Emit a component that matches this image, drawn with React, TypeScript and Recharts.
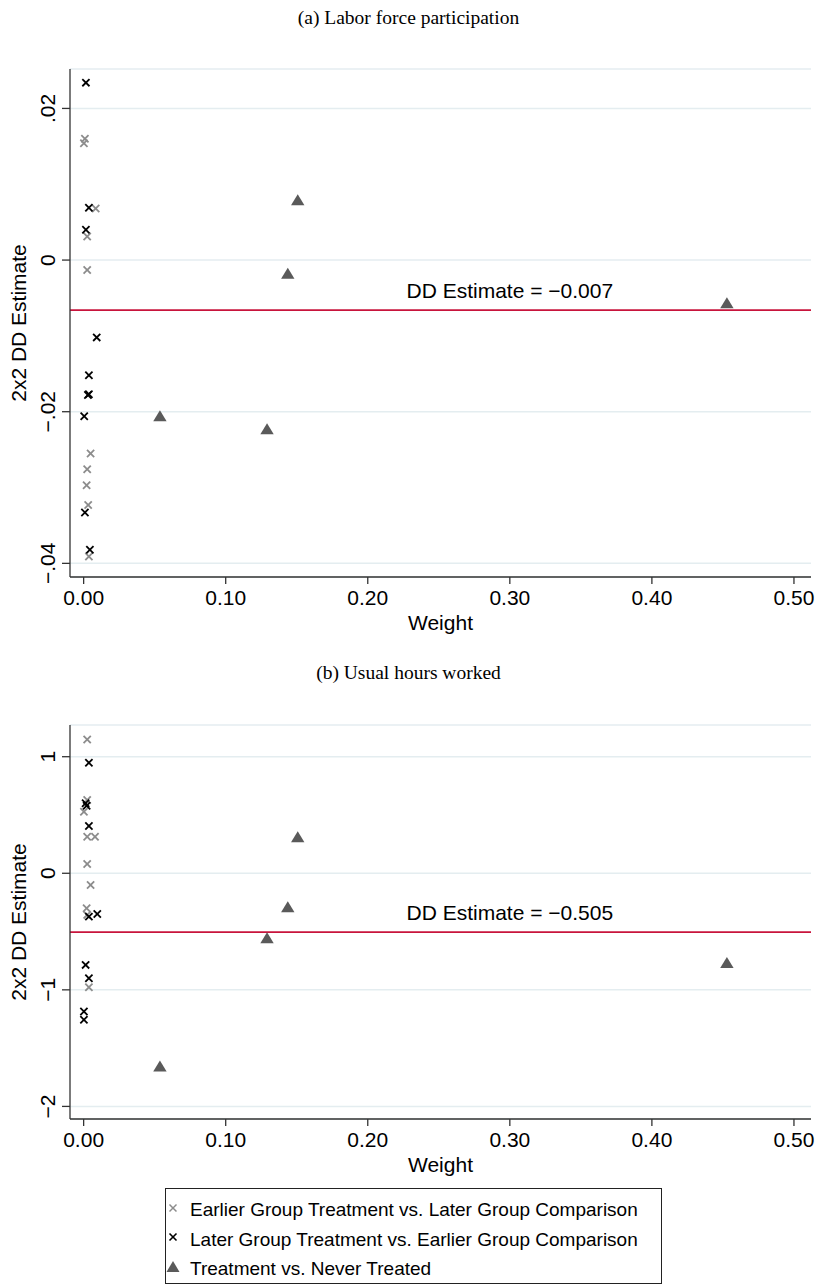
import React from "react";
import {
  ScatterChart,
  Scatter,
  XAxis,
  YAxis,
  CartesianGrid,
  ReferenceLine,
  ReferenceDot,
} from "recharts";

const SANS = '"Liberation Sans", Arial, Helvetica, sans-serif';
const SERIF = '"Liberation Serif", "Times New Roman", serif';

const xTicks = [0, 0.1, 0.2, 0.3, 0.4, 0.5];
const xTickLabels = ["0.00", "0.10", "0.20", "0.30", "0.40", "0.50"];
const xDomain = [-0.0096, 0.512];

const seriesNames = [
  "Earlier Group Treatment vs. Later Group Comparison",
  "Later Group Treatment vs. Earlier Group Comparison",
  "Treatment vs. Never Treated",
];

// (a) labor force participation
const lfpTicks = [-0.04, -0.02, 0, 0.02];
const lfpTickLabels = ["−.04", "−.02", "0", ".02"];
const lfpDomain = [-0.0418, 0.0252];
const lfpEarlierWeight = [0.0009, 0.0002, 0.0085, 0.0025, 0.0025, 0.0049, 0.0025, 0.0021, 0.0032, 0.0037];
const lfpEarlierEst = [0.016, 0.0154, 0.0068, 0.0031, -0.0013, -0.0255, -0.0276, -0.0297, -0.0323, -0.0391];
const lfpLaterWeight = [0.0016, 0.0037, 0.0016, 0.0092, 0.0037, 0.003, 0.0037, 0.0004, 0.0009, 0.0044];
const lfpLaterEst = [0.0234, 0.0069, 0.004, -0.0102, -0.0152, -0.0178, -0.0177, -0.0206, -0.0333, -0.0382];
const lfpNeverWeight = [0.0537, 0.1291, 0.1437, 0.1507, 0.4528];
const lfpNeverEst = [-0.0206, -0.0223, -0.0018, 0.0079, -0.0057];
const lfpDD = -0.0066;
const lfpDDLabel = "DD Estimate = −0.007";

// (b) usual hours worked
const hrsTicks = [-2, -1, 0, 1];
const hrsTickLabels = ["−2", "−1", "0", "1"];
const hrsDomain = [-2.108, 1.272];
const hrsEarlierWeight = [0.0025, 0.0025, 0.0002, 0.0025, 0.008, 0.0025, 0.0049, 0.0021, 0.0025, 0.0037];
const hrsEarlierEst = [1.148, 0.628, 0.528, 0.314, 0.314, 0.08, -0.1, -0.3, -0.357, -0.977];
const hrsLaterWeight = [0.0037, 0.0014, 0.0021, 0.0037, 0.0037, 0.0096, 0.0014, 0.0037, 0.0002, 0.0002];
const hrsLaterEst = [0.948, 0.6, 0.579, 0.405, -0.372, -0.349, -0.786, -0.9, -1.186, -1.257];
const hrsNeverWeight = [0.0537, 0.1291, 0.1437, 0.1507, 0.4528];
const hrsNeverEst = [-1.657, -0.557, -0.291, 0.308, -0.77];
const hrsDD = -0.505;
const hrsDDLabel = "DD Estimate = −0.505";

const zip = (w: number[], b: number[]) => w.map((x, i) => ({ w: x, b: b[i] }));

const GRAY_X = "#8c8c8c";
const BLACK_X = "#000000";
const TRI = "#5a5a5a";
const RED = "#c8143c";
const AXIS = "#333333";
const FS = 21;

const cross = (color: string) => (p: any) => {
  const { cx, cy } = p;
  const s = 3.6;
  return (
    <g>
      <line x1={cx - s} y1={cy - s} x2={cx + s} y2={cy + s} stroke={color} strokeWidth={1.8} />
      <line x1={cx - s} y1={cy + s} x2={cx + s} y2={cy - s} stroke={color} strokeWidth={1.8} />
    </g>
  );
};

const triangle = (p: any) => {
  const { cx, cy } = p;
  return (
    <polygon
      points={`${cx},${cy - 6} ${cx + 6.7},${cy + 5} ${cx - 6.7},${cy + 5}`}
      fill={TRI}
    />
  );
};

function Panel(props: {
  top: number;
  height: number;
  marginTop: number;
  marginBottom: number;
  ticks: number[];
  tickLabels: string[];
  domain: number[];
  earlier: { w: number; b: number }[];
  later: { w: number; b: number }[];
  never: { w: number; b: number }[];
  dd: number;
  ddLabel: string;
}) {
  const yTick = (p: any) => {
    const { x, y, payload } = p;
    const idx = props.ticks.indexOf(payload.value);
    return (
      <text
        x={x}
        y={y}
        transform={`rotate(-90 ${x} ${y})`}
        textAnchor="middle"
        dominantBaseline="central"
        fontSize={FS}
        fontFamily={SANS}
        fill="#000"
      >
        {props.tickLabels[idx]}
      </text>
    );
  };

  return (
    <div style={{ position: "absolute", left: 0, top: props.top }}>
      <ScatterChart
        width={817}
        height={props.height}
        margin={{ top: props.marginTop, right: 6, bottom: props.marginBottom, left: 0 }}
      >
        <CartesianGrid horizontal vertical={false} stroke="#e4edf0" strokeWidth={1.5} />
        <XAxis
          type="number"
          dataKey="w"
          domain={xDomain}
          ticks={xTicks}
          interval={0}
          allowDataOverflow
          height={60}
          tickSize={7}
          tickMargin={6}
          stroke={AXIS}
          strokeWidth={1.3}
          tick={{ fill: "#000", fontSize: FS, fontFamily: SANS }}
          tickFormatter={(v: number) => xTickLabels[xTicks.indexOf(v)]}
          label={(lp: any) => {
            const vb = lp.viewBox;
            return (
              <text
                x={vb.x + vb.width / 2}
                y={vb.y + 45}
                textAnchor="middle"
                dominantBaseline="central"
                fontSize={FS}
                fontFamily={SANS}
                fill="#000"
              >
                Weight
              </text>
            );
          }}
        />
        <YAxis
          type="number"
          dataKey="b"
          domain={props.domain}
          ticks={props.ticks}
          interval={0}
          allowDataOverflow
          width={70}
          tickSize={8}
          tickMargin={14}
          stroke={AXIS}
          strokeWidth={1.3}
          tick={yTick}
          label={(lp: any) => {
            const vb = lp.viewBox;
            const cy = vb.y + vb.height / 2;
            return (
              <text
                x={18}
                y={cy}
                transform={`rotate(-90 18 ${cy})`}
                textAnchor="middle"
                dominantBaseline="central"
                fontSize={FS}
                fontFamily={SANS}
                fill="#000"
              >
                2x2 DD Estimate
              </text>
            );
          }}
        />
        <ReferenceLine y={props.dd} stroke={RED} strokeWidth={1.6} />
        <ReferenceDot
          x={0.3}
          y={props.dd}
          r={0}
          fill="none"
          stroke="none"
          label={{
            value: props.ddLabel,
            position: "top",
            offset: 12,
            fontSize: FS,
            fontFamily: SANS,
            fill: "#000",
          }}
        />
        <Scatter name={seriesNames[0]} data={props.earlier} shape={cross(GRAY_X)} isAnimationActive={false} />
        <Scatter name={seriesNames[1]} data={props.later} shape={cross(BLACK_X)} isAnimationActive={false} />
        <Scatter name={seriesNames[2]} data={props.never} shape={triangle} isAnimationActive={false} />
      </ScatterChart>
    </div>
  );
}

function LegendBox() {
  const rowStyle = (i: number): React.CSSProperties => ({
    position: "absolute",
    left: 0,
    top: 21 + i * 29.5 - 15,
    height: 30,
    display: "flex",
    alignItems: "center",
    whiteSpace: "nowrap",
  });
  const marks = [
    <svg width={24} height={30} key="a">
      <line x1={3.5} y1={11.5} x2={10.5} y2={18.5} stroke={GRAY_X} strokeWidth={1.5} />
      <line x1={3.5} y1={18.5} x2={10.5} y2={11.5} stroke={GRAY_X} strokeWidth={1.5} />
    </svg>,
    <svg width={24} height={30} key="b">
      <line x1={3.5} y1={11.5} x2={10.5} y2={18.5} stroke={BLACK_X} strokeWidth={1.6} />
      <line x1={3.5} y1={18.5} x2={10.5} y2={11.5} stroke={BLACK_X} strokeWidth={1.6} />
    </svg>,
    <svg width={24} height={30} key="c">
      <polygon points="7,9 13.5,20 0.5,20" fill={TRI} />
    </svg>,
  ];
  return (
    <div
      style={{
        position: "absolute",
        left: 165,
        top: 1188,
        width: 497,
        height: 96,
        border: "1px solid #222",
        boxSizing: "border-box",
        fontFamily: SANS,
        fontSize: 19,
        color: "#000",
      }}
    >
      {seriesNames.map((n, i) => (
        <div key={n} style={rowStyle(i)}>
          <div style={{ width: 24 }}>{marks[i]}</div>
          <span>{n}</span>
        </div>
      ))}
    </div>
  );
}

export default function App() {
  const titleStyle = (top: number): React.CSSProperties => ({
    position: "absolute",
    left: 0,
    top,
    width: 817,
    textAlign: "center",
    fontFamily: SERIF,
    fontSize: 19.5,
  });
  return (
    <div
      style={{
        position: "absolute",
        left: 0,
        top: 0,
        width: 817,
        height: 1287,
        background: "#fff",
        overflow: "hidden",
      }}
    >
      <div style={titleStyle(7)}>(a) Labor force participation</div>
      <Panel
        top={60}
        height={580}
        marginTop={9}
        marginBottom={3}
        ticks={lfpTicks}
        tickLabels={lfpTickLabels}
        domain={lfpDomain}
        earlier={zip(lfpEarlierWeight, lfpEarlierEst)}
        later={zip(lfpLaterWeight, lfpLaterEst)}
        never={zip(lfpNeverWeight, lfpNeverEst)}
        dd={lfpDD}
        ddLabel={lfpDDLabel}
      />
      <div style={titleStyle(662)}>(b) Usual hours worked</div>
      <Panel
        top={700}
        height={480}
        marginTop={25}
        marginBottom={1}
        ticks={hrsTicks}
        tickLabels={hrsTickLabels}
        domain={hrsDomain}
        earlier={zip(hrsEarlierWeight, hrsEarlierEst)}
        later={zip(hrsLaterWeight, hrsLaterEst)}
        never={zip(hrsNeverWeight, hrsNeverEst)}
        dd={hrsDD}
        ddLabel={hrsDDLabel}
      />
      <LegendBox />
    </div>
  );
}
